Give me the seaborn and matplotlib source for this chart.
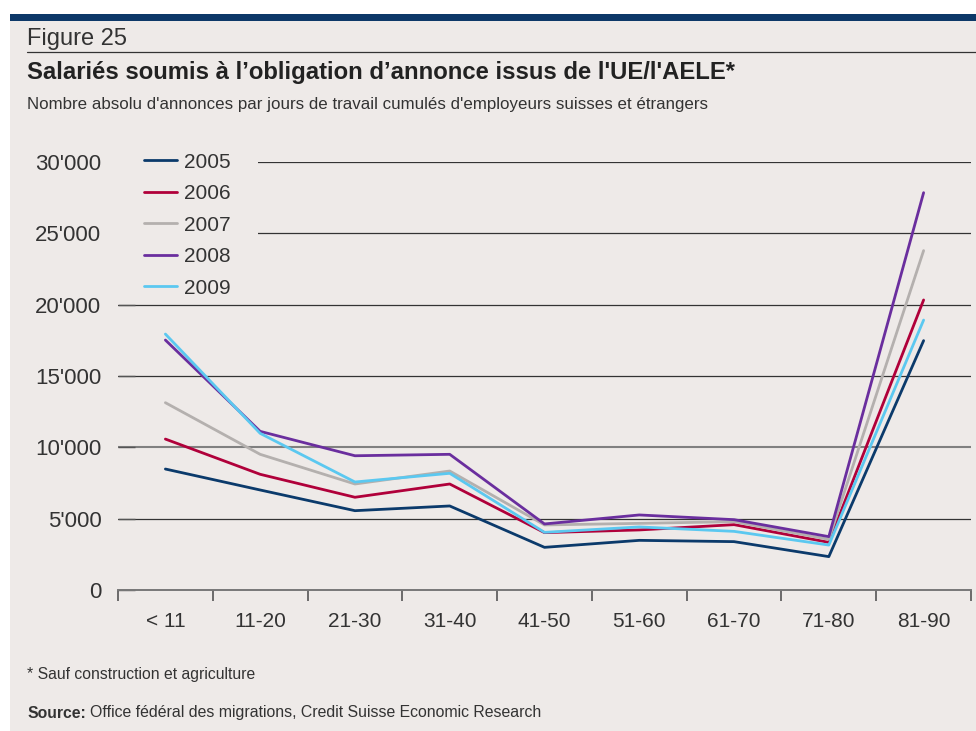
import matplotlib
matplotlib.use("Agg")
import matplotlib.pyplot as plt
import seaborn as sns
import pandas as pd
from matplotlib.ticker import FuncFormatter, FixedLocator
from matplotlib.patches import Rectangle
from matplotlib.lines import Line2D

categories = ["< 11", "11-20", "21-30", "31-40", "41-50", "51-60", "61-70", "71-80", "81-90"]
years = ["2005", "2006", "2007", "2008", "2009"]
v2005 = [8480, 7010, 5560, 5890, 2990, 3480, 3390, 2340, 17480]
v2006 = [10580, 8110, 6500, 7430, 4020, 4210, 4580, 3340, 20330]
v2007 = [13130, 9510, 7430, 8340, 4560, 4670, 4790, 3550, 23790]
v2008 = [17520, 11120, 9410, 9510, 4630, 5260, 4930, 3740, 27850]
v2009 = [17940, 10980, 7570, 8180, 4040, 4420, 4110, 3150, 18920]
yticks = [0, 5000, 10000, 15000, 20000, 25000, 30000]
colors = ["#0b3a6b", "#b0003a", "#b4b0ae", "#6a2e9e", "#5bc8f0"]

series = [v2005, v2006, v2007, v2008, v2009]
rows = []
for yr, vals in zip(years, series):
    for i, (c, v) in enumerate(zip(categories, vals)):
        rows.append({"pos": i, "cat": c, "year": yr, "value": v})
df = pd.DataFrame(rows)

sns.set_theme(style="white")
plt.rcParams["font.family"] = ["Liberation Sans", "DejaVu Sans"]

BG = "#eeeae8"
TXT = "#333333"
W, H = 976, 731
fig = plt.figure(figsize=(W / 100, H / 100), dpi=100, facecolor="white")

# background panel and top bar
fig.patches.append(Rectangle((10 / W, 0), 1 - 10 / W, 1 - 20 / H, transform=fig.transFigure,
                             facecolor=BG, edgecolor="none", zorder=-10))
fig.patches.append(Rectangle((10 / W, 1 - 21 / H), 1 - 10 / W, 7 / H, transform=fig.transFigure,
                             facecolor="#0d3868", edgecolor="none", zorder=-9))

fig.text(27 / W, 1 - 39 / H, "Figure 25", fontsize=17, color=TXT, va="center", ha="left")
fig.add_artist(Line2D([27 / W, 1], [1 - 52 / H, 1 - 52 / H], transform=fig.transFigure,
                      color="#333333", lw=0.9))
fig.text(27 / W, 1 - 73 / H, "Salariés soumis à l\u2019obligation d\u2019annonce issus de l'UE/l'AELE*",
         fontsize=17.2, fontweight="bold", color="#222222", va="center", ha="left")
fig.text(27 / W, 1 - 105 / H,
         "Nombre absolu d'annonces par jours de travail cumulés d'employeurs suisses et étrangers",
         fontsize=12.2, color=TXT, va="center", ha="left")
fig.text(27 / W, 1 - 675 / H, "* Sauf construction et agriculture", fontsize=11.3, color=TXT,
         va="center", ha="left")
t1 = fig.text(27 / W, 1 - 713 / H, "Source:", fontsize=11.3, fontweight="bold", color=TXT,
              va="center", ha="left")
fig.canvas.draw()
bb = t1.get_window_extent()
fig.text(bb.x1 / W + 4 / W, 1 - 713 / H, "Office fédéral des migrations, Credit Suisse Economic Research",
         fontsize=11.4, color=TXT, va="center", ha="left")

ax = fig.add_axes([118 / W, 1 - 590 / H, (971 - 118) / W, (590 - 162) / H])
ax.set_facecolor("none")
ax.set_zorder(2)

sns.lineplot(data=df, x="pos", y="value", hue="year", palette=colors, hue_order=years,
             linewidth=2.0, ax=ax, legend=True, zorder=3)

ax.set_xlim(-0.5, len(categories) - 0.5)
ax.set_ylim(0, 30000)
ax.set_xlabel("")
ax.set_ylabel("")

ax.set_xticks(range(len(categories)))
ax.set_xticklabels(categories, fontsize=15, color=TXT)
ax.xaxis.set_minor_locator(FixedLocator([i - 0.5 for i in range(len(categories) + 1)]))
ax.tick_params(axis="x", which="major", length=0, pad=16)
ax.tick_params(axis="x", which="minor", length=8, width=1.2, color="#555555", direction="out",
               bottom=True)

ax.set_yticks(yticks)
ax.yaxis.set_major_formatter(FuncFormatter(lambda v, p: f"{int(v):,}".replace(",", "'")))
ax.tick_params(axis="y", which="major", length=12, width=1.0, color="#555555", direction="in",
               left=True, pad=12, labelsize=16, labelcolor=TXT)

for s in ["top", "right", "left"]:
    ax.spines[s].set_visible(False)
ax.spines["bottom"].set_color("#777777")
ax.spines["bottom"].set_linewidth(1.4)

ax.yaxis.grid(True, color="#333333", linewidth=0.9)
ax.set_axisbelow(True)
for val, gl in zip(yticks, ax.get_ygridlines()):
    if val == 10000:
        gl.set_color("#808080")
        gl.set_linewidth(1.5)
    if val == 0:
        gl.set_visible(False)

# background box behind the legend (hides grid lines there)
ax.add_patch(Rectangle((0, 0.68), 0.164, 0.36, transform=ax.transAxes, facecolor=BG,
                       edgecolor="none", zorder=4, clip_on=False))

leg = ax.legend(loc="upper left", bbox_to_anchor=(26 / 853, 1.022), frameon=False, fontsize=15,
                handlelength=1.6, handletextpad=0.3, labelspacing=0.6, borderpad=0,
                borderaxespad=0)
leg.set_zorder(5)
for t in leg.get_texts():
    t.set_color(TXT)

fig.savefig("out.png", dpi=100, facecolor="white")
